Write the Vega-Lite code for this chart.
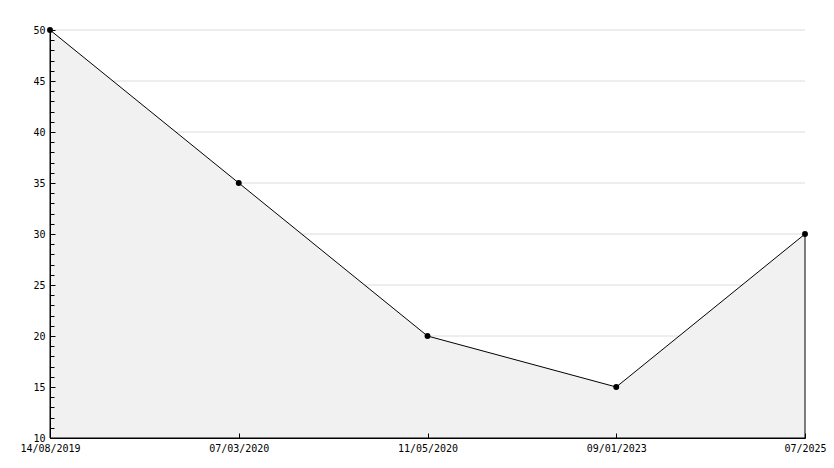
{
  "$schema": "https://vega.github.io/schema/vega-lite/v6.json",
  "width": 755,
  "height": 408,
  "autosize": {"type": "none"},
  "padding": {"left": 50, "top": 30, "right": 29, "bottom": 30},
  "background": "white",
  "config": {
    "view": {"stroke": null},
    "axis": {"labelFont": "DejaVu Sans Mono", "labelFontSize": 10, "labelColor": "black", "domainColor": "black", "tickColor": "black", "titleFont": "DejaVu Sans Mono"}
  },
  "data": {
    "values": [
      {"date": "14/08/2019", "order": 1, "value": 50},
      {"date": "07/03/2020", "order": 2, "value": 35},
      {"date": "11/05/2020", "order": 3, "value": 20},
      {"date": "09/01/2023", "order": 4, "value": 15},
      {"date": "07/2025", "order": 5, "value": 30}
    ]
  },
  "encoding": {
    "x": {
      "field": "date", "type": "ordinal", "sort": {"field": "order"},
      "scale": {"type": "point", "padding": 0},
      "axis": {"title": null, "labelAngle": 0, "tickSize": -5, "labelPadding": 10, "grid": false, "zindex": 1}
    }
  },
  "layer": [
    {
      "mark": {"type": "rule", "color": "#dcdcdc", "strokeWidth": 1},
      "data": {"values": [{"g": 15}, {"g": 20}, {"g": 25}, {"g": 30}, {"g": 35}, {"g": 40}, {"g": 45}, {"g": 50}]},
      "encoding": {
        "y": {"field": "g", "type": "quantitative", "scale": {"domain": [10, 50], "zero": false, "nice": false},
          "axis": {"title": null, "orient": "left", "values": [10,15,20,25,30,35,40,45,50], "tickSize": -5, "labelPadding": 10, "grid": false, "zindex": 1}},
        "x": {"datum": "14/08/2019"},
        "x2": {"datum": "07/2025"}
      }
    },
    {
      "mark": {"type": "area", "fill": "#f1f1f1", "stroke": "black", "strokeWidth": 1},
      "encoding": {
        "y": {"field": "value", "type": "quantitative", "axis": null},
        "y2": {"datum": 10}
      }
    },
    {
      "mark": {"type": "point", "filled": true, "shape": "circle", "size": 35, "color": "black", "opacity": 1},
      "encoding": {
        "y": {"field": "value", "type": "quantitative",
          "axis": {"title": null, "orient": "left", "values": [11,12,13,14,16,17,18,19,21,22,23,24,26,27,28,29,31,32,33,34,36,37,38,39,41,42,43,44,46,47,48,49], "tickSize": -4, "labels": false, "domain": false, "grid": false, "zindex": 1}}
      }
    }
  ],
  "resolve": {"axis": {"y": "independent"}}
}
